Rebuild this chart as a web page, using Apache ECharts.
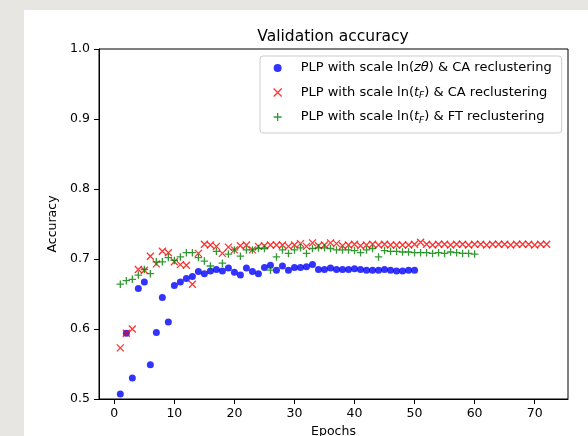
<!DOCTYPE html>
<html>
<head>
<meta charset="utf-8">
<script src="https://cdn.jsdelivr.net/npm/echarts@6/dist/echarts.min.js"></script>
<style>
  html, body { margin: 0; padding: 0; background: #e8e6e3; }
  #wrap { position: relative; width: 588px; height: 436px; overflow: hidden; }
  #paper { position: absolute; left: 24px; top: 10px; width: 564px; height: 426px; background: #ffffff; }
  #chart { position: absolute; left: 0; top: 0; width: 588px; height: 436px; }
</style>
</head>
<body>
<div id="wrap"><div id="paper"></div><div id="chart"></div></div>
<script>
// ---- data ----
const seriesNames = [
  'PLP with scale ln(zθ) & CA reclustering',
  'PLP with scale ln(tF) & CA reclustering',
  'PLP with scale ln(tF) & FT reclustering'
];
// epochs start at 1
const blueValues = [
  0.507, 0.594, 0.530, 0.658, 0.667, 0.549, 0.595, 0.645, 0.610, 0.662,
  0.667, 0.672, 0.675, 0.682, 0.679, 0.683, 0.685, 0.683, 0.687, 0.681,
  0.677, 0.687, 0.682, 0.679, 0.688, 0.691, 0.684, 0.690, 0.684, 0.688,
  0.688, 0.689, 0.692, 0.685, 0.685, 0.687, 0.685, 0.685, 0.685, 0.686,
  0.685, 0.684, 0.684, 0.684, 0.685, 0.684, 0.683, 0.683, 0.684, 0.684
];
const redValues = [
  0.573, 0.594, 0.600, 0.685, 0.684, 0.704, 0.693, 0.711, 0.709, 0.696,
  0.692, 0.691, 0.664, 0.708, 0.721, 0.720, 0.718, 0.708, 0.717, 0.713,
  0.719, 0.720, 0.713, 0.718, 0.719, 0.720, 0.720, 0.720, 0.718, 0.720,
  0.722, 0.718, 0.723, 0.719, 0.720, 0.723, 0.722, 0.719, 0.720, 0.721,
  0.719, 0.720, 0.721, 0.720, 0.721, 0.720, 0.720, 0.720, 0.720, 0.721,
  0.724, 0.721, 0.720, 0.721, 0.721, 0.720, 0.721, 0.721, 0.720, 0.721,
  0.721, 0.720, 0.721, 0.721, 0.721, 0.720, 0.721, 0.721, 0.721, 0.720,
  0.721, 0.721
];
const greenValues = [
  0.664, 0.669, 0.671, 0.677, 0.685, 0.679, 0.696, 0.696, 0.702, 0.698,
  0.703, 0.709, 0.709, 0.702, 0.697, 0.690, 0.711, 0.694, 0.707, 0.713,
  0.704, 0.713, 0.713, 0.715, 0.715, 0.684, 0.703, 0.713, 0.708, 0.713,
  0.716, 0.708, 0.715, 0.716, 0.716, 0.715, 0.713, 0.713, 0.713, 0.712,
  0.709, 0.713, 0.715, 0.703, 0.712, 0.711, 0.711, 0.710, 0.710, 0.709,
  0.709, 0.709, 0.708, 0.709, 0.708, 0.710, 0.709, 0.708, 0.708, 0.707
];
const xTicks = [0, 10, 20, 30, 40, 50, 60, 70];
const yTicks = [0.5, 0.6, 0.7, 0.8, 0.9, 1.0];

// ---- chart ----
const FONT = 'DejaVu Sans';
const toPoints = arr => arr.map((v, i) => [i + 1, v]);
const legendRich = {
  n: { fontFamily: FONT, fontSize: 13, color: '#000', lineHeight: 16 },
  i: { fontFamily: FONT, fontSize: 13, fontStyle: 'italic', color: '#000', lineHeight: 16 },
  s: { fontFamily: FONT, fontSize: 9, fontStyle: 'italic', color: '#000', lineHeight: 9, verticalAlign: 'bottom' }
};
const legendLabels = {};
legendLabels[seriesNames[0]] = '{n|PLP with scale ln(}{i|zθ}{n|) & CA reclustering}';
legendLabels[seriesNames[1]] = '{n|PLP with scale ln(}{i|t}{s|F}{n|) & CA reclustering}';
legendLabels[seriesNames[2]] = '{n|PLP with scale ln(}{i|t}{s|F}{n|) & FT reclustering}';

const chart = echarts.init(document.getElementById('chart'), null, { renderer: 'canvas' });
chart.setOption({
  animation: false,
  backgroundColor: 'transparent',
  textStyle: { fontFamily: FONT },
  title: {
    text: 'Validation accuracy',
    left: 333, top: 29, padding: 0,
    textAlign: 'center',
    textStyle: { fontFamily: FONT, fontSize: 15.5, fontWeight: 'normal', color: '#000' }
  },
  grid: {
    left: 99, right: 20, top: 49, bottom: 37,
    containLabel: false, outerBoundsMode: 'none',
    show: true, borderColor: '#000', borderWidth: 1, backgroundColor: 'transparent'
  },
  legend: {
    orient: 'vertical',
    left: 260, top: 56,
    padding: [4, 10, 8, 13],
    itemWidth: 36, itemHeight: 8, itemGap: 8.5,
    backgroundColor: 'rgba(255,255,255,0.8)',
    borderColor: '#cccccc', borderWidth: 1, borderRadius: 3,
    selectedMode: false,
    itemStyle: { borderWidth: 1.3 },
    textStyle: { fontFamily: FONT, fontSize: 13, color: '#000', lineHeight: 16, rich: legendRich },
    formatter: name => legendLabels[name],
    data: seriesNames
  },
  xAxis: {
    type: 'value', min: -2.55, max: 75.55,
    name: 'Epochs', nameLocation: 'middle', nameGap: 26,
    nameTextStyle: { fontFamily: FONT, fontSize: 12.5, color: '#000' },
    axisLine: { show: true, onZero: false, lineStyle: { color: '#000', width: 1 } },
    axisTick: { show: true, length: 5, lineStyle: { color: '#000', width: 1 }, customValues: xTicks },
    axisLabel: { margin: 8, fontFamily: FONT, fontSize: 12.5, color: '#000', customValues: xTicks },
    splitLine: { show: false }
  },
  yAxis: {
    type: 'value', min: yTicks[0], max: yTicks[yTicks.length - 1], interval: 0.1,
    name: 'Accuracy', nameLocation: 'middle', nameGap: 36, nameRotate: 90,
    nameTextStyle: { fontFamily: FONT, fontSize: 12.5, color: '#000' },
    axisLine: { show: true, onZero: false, lineStyle: { color: '#000', width: 1 } },
    axisTick: { show: true, length: 5, lineStyle: { color: '#000', width: 1 } },
    axisLabel: { margin: 9, fontFamily: FONT, fontSize: 12.5, color: '#000', formatter: v => v.toFixed(1) },
    splitLine: { show: false }
  },
  series: [
    {
      name: seriesNames[0], type: 'scatter', silent: true,
      symbol: 'circle', symbolSize: 7,
      itemStyle: { color: '#0000ff', borderWidth: 0 },
      data: toPoints(blueValues)
    },
    {
      name: seriesNames[1], type: 'scatter', silent: true,
      symbol: 'path://M0,0L10,10M10,0L0,10', symbolSize: 7,
      itemStyle: { color: 'rgba(0,0,0,0)', borderColor: '#ff0000', borderWidth: 1.3 },
      data: toPoints(redValues)
    },
    {
      name: seriesNames[2], type: 'scatter', silent: true,
      symbol: 'path://M5,0L5,10M0,5L10,5', symbolSize: 7.5,
      itemStyle: { color: 'rgba(0,0,0,0)', borderColor: '#008000', borderWidth: 1.3 },
      data: toPoints(greenValues)
    }
  ]
});
</script>
</body>
</html>
